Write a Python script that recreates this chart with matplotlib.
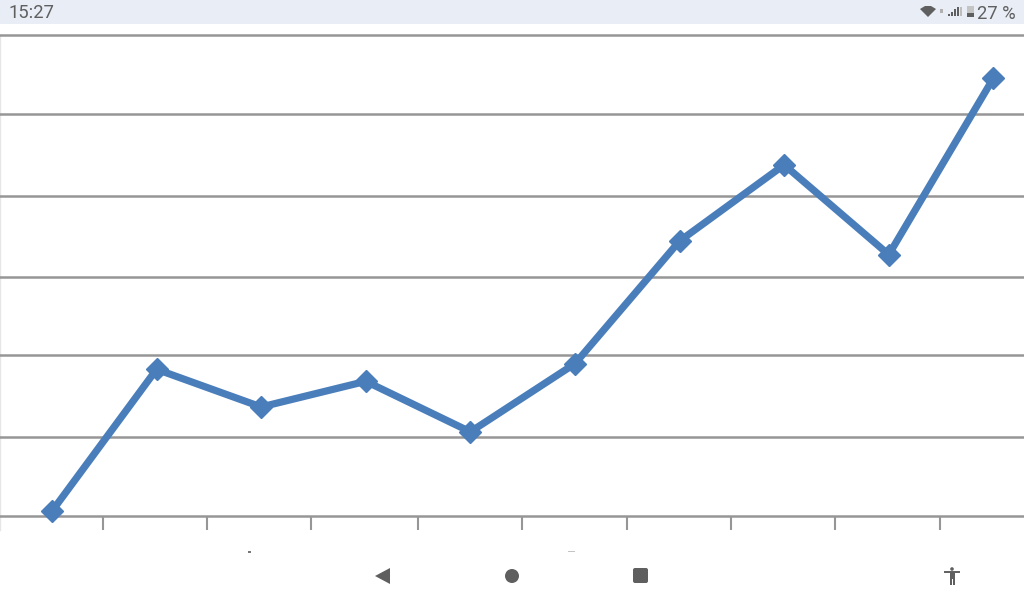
import numpy as np
from matplotlib import pyplot as plt
from matplotlib.patches import Circle, FancyBboxPatch, Polygon, Rectangle

# values
categories = list(range(10))
values = [0.06, 1.83, 1.36, 1.68, 1.05, 1.90, 3.43, 4.38, 3.26, 5.46]
grid_levels = [0, 0.985, 2.01, 2.98, 3.99, 5.01, 6]
tick_positions = [0.49, 1.48, 2.48, 3.50, 4.49, 5.50, 6.49, 7.49, 8.49]
status_time = '15:27'
status_battery = '27 %'

line_blue = '#4a7ebb'
grid_grey = '#969696'
icon_grey = '#5f5f5f'

plt.rcParams['font.family'] = ['Roboto', 'DejaVu Sans']

fig = plt.figure(figsize=(10.24, 6), dpi=100, facecolor='white')

# chart axes, covers y pixels 35 to 516
ax = fig.add_axes([0, (600 - 516) / 600, 1, (516 - 35) / 600])
ax.set_xlim(-0.497, 9.293)
ax.set_ylim(0, 6)
for s in ax.spines.values():
    s.set_visible(False)
ax.patch.set_alpha(0)
ax.set_yticks(grid_levels)
ax.set_yticklabels([])
ax.tick_params(axis='y', length=0)
ax.set_xticks(tick_positions)
ax.set_xticklabels([])
ax.tick_params(axis='x', length=10, width=1.5, color=grid_grey)
ax.grid(axis='y', color=grid_grey, lw=1.8)
ax.set_axisbelow(True)
for g in ax.get_ygridlines():
    g.set_clip_on(False)
# faint left edge, runs down past the baseline as far as the ticks
ax.axvline(-0.493, ymin=-14 / 481, ymax=1, color='#e6e6e6', lw=1, clip_on=False, zorder=0)
ax.plot(categories, values, color=line_blue, lw=5.2, marker='D', ms=11.5,
        mec=line_blue, clip_on=False, zorder=3)

# overlay in pixel coordinates for the phone status and nav bars
ov = fig.add_axes([0, 0, 1, 1])
ov.set_xlim(0, 1024)
ov.set_ylim(600, 0)
ov.axis('off')
ov.patch.set_alpha(0)

ov.add_patch(Rectangle((0, 0), 1024, 24, fc='#e8edf6', ec='none'))
ov.text(8, 13.5, status_time, fontsize=13.2, color=icon_grey, va='center', ha='left')
ov.text(1016, 14, status_battery, fontsize=13.2, color=icon_grey, va='center', ha='right')

# wifi, signal, battery
ov.add_patch(Polygon([(920, 9), (925, 6), (931, 6), (936, 9), (928, 17)], fc=icon_grey, ec='none'))
ov.add_patch(Rectangle((940, 9), 3, 4, fc='#b0b0b0', ec='none'))
for i, h in enumerate([2, 4, 7, 9]):
    ov.add_patch(Rectangle((948 + i * 3, 16 - h), 2, h, fc=icon_grey, ec='none'))
ov.add_patch(Rectangle((960, 7), 1.5, 9, fc='#bdbdbd', ec='none'))
ov.add_patch(Rectangle((967, 6), 7, 11, fc='#c4c4c4', ec='none'))
ov.add_patch(Rectangle((967, 13), 7, 4, fc=icon_grey, ec='none'))

# nav buttons
ov.add_patch(Polygon([(375, 576), (390, 568), (390, 584)], fc=icon_grey, ec='none'))
ov.add_patch(Circle((512, 576), 7, fc=icon_grey, ec='none'))
ov.add_patch(FancyBboxPatch((634, 569), 13, 13, boxstyle='round,pad=1,rounding_size=2',
                            fc=icon_grey, ec='none'))

# accessibility figure
ov.add_patch(Circle((952, 569), 1.8, fc=icon_grey, ec='none'))
ov.plot([945, 959], [572, 572], color=icon_grey, lw=1.4)
ov.add_patch(Polygon([(949.5, 572), (954.5, 572), (954.5, 585), (953, 585), (953, 579),
                      (951.5, 579), (951.5, 585), (949.5, 585)], fc=icon_grey, ec='none'))

# clipped tops of the hidden axis labels
ov.add_patch(Rectangle((248, 551), 3, 1.5, fc='#777777', ec='none'))
ov.add_patch(Rectangle((568, 551), 7, 1.2, fc='#c4c4c4', ec='none'))

fig.savefig('out.png', dpi=100)
